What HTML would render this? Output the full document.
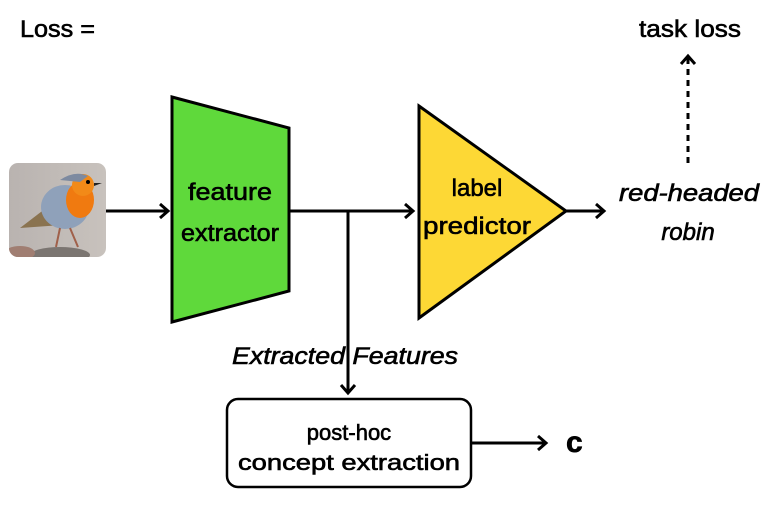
<!DOCTYPE html>
<html><head><style>
html,body{margin:0;padding:0;background:#fff;}
svg text{font-family:"Liberation Sans",sans-serif;fill:#000;stroke:#000;stroke-width:0.6;}
</style></head><body>
<svg width="778" height="506" viewBox="0 0 778 506" xmlns="http://www.w3.org/2000/svg">
<defs>
<linearGradient id="bg" x1="0" y1="0" x2="1" y2="0"><stop offset="0" stop-color="#b9b3b0"/><stop offset="1" stop-color="#c8c2bd"/></linearGradient>
<clipPath id="cp"><rect x="9" y="163" width="97" height="94" rx="9"/></clipPath>
</defs>
<g clip-path="url(#cp)">
<rect x="9" y="163" width="97" height="94" fill="url(#bg)"/>
<ellipse cx="60" cy="255" rx="30" ry="8" fill="#7b7571"/>
<ellipse cx="20" cy="253" rx="15" ry="7" fill="#a07e72"/>
<path d="M20 228 L50 205 L62 225 Z" fill="#8a7350"/>
<ellipse cx="65" cy="207" rx="24" ry="22" fill="#8fa1ba"/>
<ellipse cx="80" cy="200" rx="14" ry="18" fill="#f07a10"/>
<circle cx="83" cy="185" r="11" fill="#f28a18"/>
<path d="M60 180 Q75 170 88 176 L80 182 Z" fill="#7d8aa0"/>
<circle cx="88" cy="182" r="2" fill="#000"/>
<path d="M94 183 L102 183 L94 186 Z" fill="#222"/>
<path d="M60 228 L56 247 M70 228 L78 247" stroke="#a0604a" stroke-width="2"/>
</g>
<g stroke="#000" stroke-width="3" fill="none">
<line x1="106" y1="211" x2="168" y2="211"/>
<polyline points="160,204 168,211 160,218"/>
<line x1="289" y1="211" x2="413" y2="211"/>
<polyline points="405,204 413,211 405,218"/>
<line x1="348" y1="211" x2="348" y2="393"/>
<polyline points="341,385 348,393 355,385"/>
<line x1="566" y1="211" x2="604" y2="211"/>
<polyline points="596,204 604,211 596,218"/>
<line x1="688" y1="163" x2="688" y2="58" stroke-dasharray="6,5"/>
<polyline points="681,64 688,56 695,64"/>
<line x1="471" y1="443" x2="546" y2="443"/>
<polyline points="538,436 546,443 538,450"/>
</g>
<polygon points="172,97 289,128 289,291 172,322" fill="#5fd93b" stroke="#000" stroke-width="3"/>
<polygon points="419,106 566,211 419,318" fill="#fdd835" stroke="#000" stroke-width="3"/>
<rect x="227" y="399" width="244" height="88" rx="11" fill="#fff" stroke="#000" stroke-width="2.5"/>
<g font-size="24" text-anchor="middle">
<text x="230" y="200" textLength="84" lengthAdjust="spacingAndGlyphs">feature</text>
<text x="230" y="241" textLength="98" lengthAdjust="spacingAndGlyphs">extractor</text>
<text x="477" y="196">label</text>
<text x="477" y="234" textLength="108" lengthAdjust="spacingAndGlyphs">predictor</text>
<text x="690" y="37" textLength="102" lengthAdjust="spacingAndGlyphs">task loss</text>
<text x="349" y="440" font-size="22">post-hoc</text>
<text x="349" y="470" font-size="22" textLength="222" lengthAdjust="spacingAndGlyphs">concept extraction</text>
<text x="689" y="201" font-style="italic" textLength="140" lengthAdjust="spacingAndGlyphs">red-headed</text>
<text x="688" y="240" font-style="italic">robin</text>
<text x="345" y="364" font-style="italic" textLength="226" lengthAdjust="spacingAndGlyphs">Extracted Features</text>
</g>
<text x="20" y="37" font-size="24" textLength="75" lengthAdjust="spacingAndGlyphs">Loss =</text>
<text x="566" y="452" font-size="30" font-weight="bold">c</text>
</svg>
</body></html>
